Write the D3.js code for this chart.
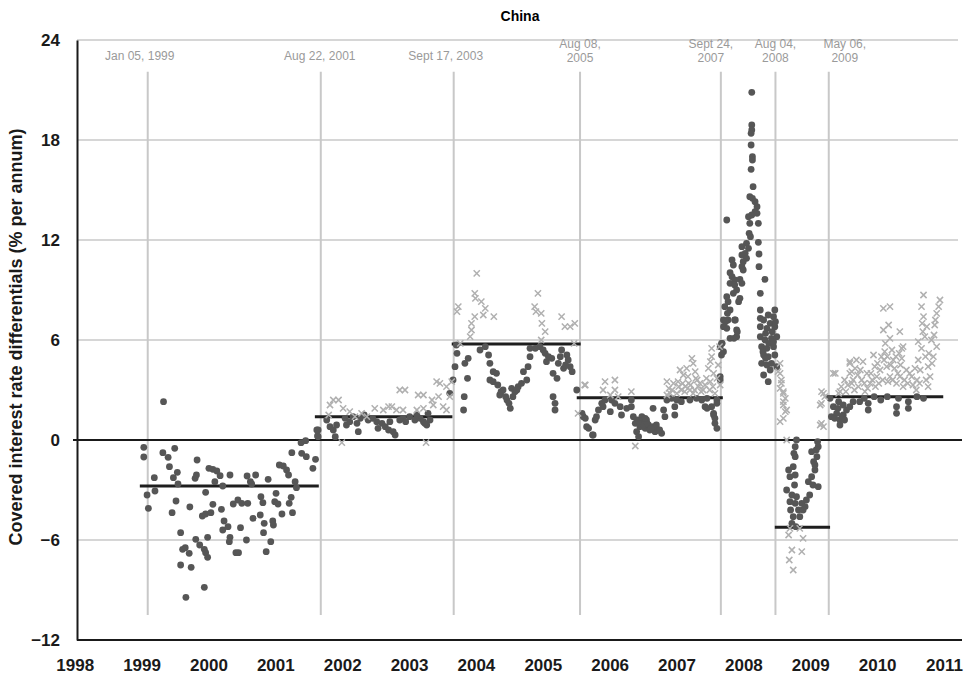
<!DOCTYPE html>
<html>
<head>
<meta charset="utf-8">
<script src="https://cdn.jsdelivr.net/npm/d3@7"></script>
<style>
  body { margin: 0; background: #fff; font-family: "Liberation Sans", Arial, sans-serif; }
  svg text { font-family: "Liberation Sans", Arial, sans-serif; }
</style>
</head>
<body>
<script>
//----------------- data (decimal year, % p.a.) ----------------

const yTicks = [-12, -6, 0, 6, 12, 18, 24];
const yearLabels = [1998, 1999, 2000, 2001, 2002, 2003, 2004, 2005, 2006, 2007, 2008, 2009, 2010, 2011];

// regime change dates (position on the axis) and their captions
const eventPos = [1999.01, 2001.64, 2003.66, 2005.58, 2007.72, 2008.55, 2009.36];
const eventText = [["Jan 05, 1999"], ["Aug 22, 2001"], ["Sept 17, 2003"], ["Aug 08,", "2005"], ["Sept 24,", "2007"], ["Aug 04,", "2008"], ["May 06,", "2009"]];

// period averages: start, end, level
const meanStart = [1998.89, 2001.55, 2003.63, 2005.53, 2008.54, 2009.30];
const meanEnd = [2001.61, 2003.64, 2005.59, 2007.75, 2009.38, 2011.10];
const meanLevel = [-2.76, 1.40, 5.76, 2.54, -5.24, 2.60];

// dark dots
const dots = [
  [1998.95,-0.44],[1998.95,-1.02],[1999.00,-3.30],[1999.02,-4.10],[1999.11,-2.26],[1999.12,-3.06],[1999.24,-0.76],[1999.25,2.30],
  [1999.32,-1.04],[1999.42,-0.50],[1999.34,-1.60],[1999.46,-1.94],[1999.40,-2.26],[1999.47,-2.64],[1999.44,-3.66],[1999.38,-4.36],
  [1999.51,-5.56],[1999.54,-6.56],[1999.58,-6.46],[1999.64,-6.80],[1999.51,-7.50],[1999.67,-7.64],[1999.59,-9.44],[1999.87,-8.84],
  [1999.65,-4.02],[1999.76,-1.20],[1999.73,-2.30],[1999.75,-2.10],[1999.89,-3.14],[1999.74,-5.96],[1999.80,-6.30],[1999.87,-6.56],
  [1999.89,-6.76],[1999.92,-7.04],[1999.92,-5.84],[1999.84,-4.56],[1999.89,-4.44],[1999.97,-4.36],[2000.00,-3.86],[1999.94,-1.70],
  [2000.00,-1.76],[2000.06,-1.86],[2000.11,-2.14],[2000.03,-2.50],[2000.15,-2.76],[2000.26,-2.10],[2000.13,-4.16],[2000.17,-4.86],
  [2000.15,-5.40],[2000.23,-5.20],[2000.26,-5.84],[2000.25,-6.10],[2000.35,-6.76],[2000.39,-6.76],[2000.31,-3.84],[2000.38,-3.60],
  [2000.44,-3.80],[2000.53,-3.80],[2000.42,-5.26],[2000.51,-6.00],[2000.52,-2.16],[2000.57,-2.50],[2000.65,-2.10],[2000.59,-2.64],
  [2000.61,-4.70],[2000.73,-3.40],[2000.76,-3.76],[2000.72,-4.50],[2000.78,-5.00],[2000.77,-5.56],[2000.81,-6.70],[2000.88,-6.10],
  [2000.84,-2.36],[2000.91,-4.86],[2000.92,-5.10],[2000.96,-3.20],[2000.94,-3.70],[2000.99,-3.84],[2001.05,-4.44],[2001.01,-1.50],
  [2001.07,-1.56],[2001.12,-1.80],[2001.15,-2.10],[2001.16,-3.80],[2001.19,-3.44],[2001.21,-4.36],[2001.25,-2.50],[2001.27,-2.86],
  [2001.20,-0.76],[2001.34,-0.16],[2001.41,-0.04],[2001.35,-0.80],[2001.42,-1.00],[2001.52,-1.70],[2001.56,-1.16],[2001.59,0.24],
  [2001.60,0.60],
  [2001.58,0.6],[2001.60,0.2],[2001.73,1.2],[2001.78,0.8],[2001.83,0.6],[2001.86,0.2],[2001.88,0.9],[2002.01,1.3],[2002.03,0.9],
  [2002.08,1.1],[2002.13,1.4],[2002.19,1.0],[2002.21,0.5],[2002.24,1.3],[2002.36,1.2],[2002.49,1.1],[2002.51,0.7],[2002.57,1.0],
  [2002.62,0.8],[2002.67,0.6],[2002.69,1.1],[2002.74,0.5],[2002.77,0.3],[2002.84,1.2],[2002.89,1.3],[2002.99,1.4],[2003.07,1.2],
  [2003.15,1.3],[2003.20,1.1],[2003.25,0.9],[2003.27,1.6],[2002.30,1.5],[2002.43,1.3],[2002.93,1.1],[2003.10,1.5],[2003.22,1.0],
  [2003.30,1.2],
  [2003.60,2.8],[2003.65,3.6],[2003.68,4.4],[2003.71,5.2],[2003.70,5.7],[2003.83,4.6],[2003.88,4.9],[2003.87,3.7],[2003.82,2.6],
  [2003.81,1.8],[2004.06,5.4],[2004.14,5.6],[2004.19,5.1],[2004.21,4.6],[2004.26,4.1],[2004.31,4.0],[2004.21,3.6],[2004.26,3.5],
  [2004.36,2.7],[2004.41,3.0],[2004.47,2.4],[2004.52,1.9],[2004.54,3.1],[2004.59,2.9],[2004.64,3.2],[2004.69,3.4],[2004.77,3.6],
  [2004.72,4.1],[2004.79,4.4],[2004.82,5.0],[2004.82,5.5],[2004.97,5.6],[2005.02,5.4],[2005.05,5.2],[2005.07,4.7],[2005.15,4.9],
  [2005.17,4.0],[2005.23,3.7],[2005.25,4.6],[2005.30,5.4],[2005.33,4.3],[2005.38,5.1],[2005.40,4.8],[2005.43,4.4],[2005.46,4.1],
  [2005.17,2.6],[2005.20,2.2],[2005.20,1.8],[2005.53,3.0],[2004.33,3.3],[2004.38,2.9],[2004.45,2.6],[2004.50,2.2],[2004.56,2.6],
  [2004.62,3.0],[2004.90,5.5],[2005.10,5.0],[2005.28,5.0],[2005.36,4.5],
  [2005.61,1.6],[2005.63,1.4],[2005.66,1.3],[2005.68,0.8],[2005.71,0.7],[2005.77,0.3],[2005.78,0.3],[2005.81,1.2],[2005.83,1.4],
  [2005.86,1.8],[2005.91,2.2],[2005.96,2.4],[2005.93,2.0],[2006.04,1.7],[2006.06,2.4],[2006.11,2.2],[2006.19,2.0],[2006.21,1.5],
  [2006.29,1.9],[2006.36,2.0],[2006.36,2.4],[2006.39,1.4],[2006.42,1.0],[2006.44,0.5],[2006.47,0.2],[2006.49,0.8],[2006.52,1.4],
  [2006.54,1.1],[2006.57,0.7],[2006.59,1.2],[2006.62,0.9],[2006.64,0.6],[2006.69,0.8],[2006.72,0.5],[2006.77,0.6],[2006.82,0.4],
  [2006.69,1.9],[2006.85,1.8],[2006.87,1.4],[2006.90,2.4],[2006.97,2.5],[2007.02,2.0],[2007.02,1.5],[2007.05,2.4],[2007.43,2.4],
  [2007.48,2.0],[2007.51,2.5],[2007.58,2.0],[2007.61,1.5],[2007.63,1.0],[2007.66,0.7],[2007.66,2.4],[2007.71,3.6],[2006.45,1.2],
  [2006.50,1.0],[2006.55,0.9],[2006.60,1.0],[2006.66,0.7],[2006.74,0.9],[2006.79,0.6],[2006.57,1.3],[2007.12,2.3],[2007.25,2.4],
  [2007.35,2.5],
  [2008.19,20.86],[2008.19,18.9],[2008.19,18.6],[2008.18,18.4],[2008.18,17.7],[2008.20,17.0],[2008.20,16.8],[2008.18,16.24],
  [2008.21,15.2],[2008.16,14.6],[2008.20,14.5],[2008.24,14.3],[2008.27,14.0],[2008.24,13.7],[2008.19,13.5],[2008.14,13.4],
  [2008.27,13.6],[2008.16,13.0],[2008.29,13.0],[2007.81,13.2],[2008.15,12.4],[2008.17,12.2],[2008.29,11.86],[2008.11,11.8],
  [2008.14,11.5],[2008.04,11.6],[2008.09,11.2],[2008.30,11.16],[2008.04,11.1],[2008.11,10.9],[2007.89,10.8],[2008.06,10.7],
  [2007.91,10.5],[2008.04,10.4],[2008.30,10.4],[2008.06,10.2],[2007.86,10.04],[2007.89,9.8],[2007.93,9.6],[2008.01,9.64],
  [2008.39,9.64],[2007.86,9.4],[2007.93,9.3],[2008.04,9.4],[2007.96,9.0],[2007.91,8.8],[2007.81,8.6],[2007.83,8.3],[2008.01,8.5],
  [2007.99,8.3],[2007.78,8.0],[2007.86,7.8],[2008.32,8.8],[2008.32,7.8],[2008.54,7.8],[2007.76,7.2],[2007.83,7.2],[2007.93,7.2],
  [2008.32,7.3],[2008.37,7.2],[2008.52,7.4],[2008.47,7.0],[2007.76,6.8],[2007.81,6.7],[2007.96,6.6],[2008.32,6.8],[2008.42,6.7],
  [2008.54,6.8],[2007.86,6.1],[2007.96,6.2],[2008.32,6.2],[2008.39,6.0],[2008.49,6.1],[2008.57,6.2],[2007.73,5.8],[2007.71,5.6],
  [2008.34,5.6],[2008.42,5.5],[2008.52,5.6],[2007.73,5.1],[2008.37,5.1],[2008.44,5.0],[2008.54,5.1],[2008.34,4.6],[2008.42,4.5],
  [2008.49,4.6],[2008.57,4.4],[2008.37,3.9],[2008.44,3.5],[2007.71,3.8],[2007.66,2.2],[2007.51,1.9],[2007.61,1.6],[2007.63,1.3],
  [2007.76,5.3],[2007.74,5.8],[2007.79,7.1],[2007.82,7.6],[2007.92,6.1],[2007.97,6.5],[2007.94,7.2],[2008.40,6.4],[2008.45,5.8],
  [2008.50,6.5],[2008.36,5.3],[2008.47,4.2],[2008.52,5.9],[2008.44,7.5],[2008.55,7.1],[2008.40,4.9],
  [2008.87,0.0],[2008.85,-0.4],[2008.85,-1.0],[2008.82,-1.6],[2008.75,-1.8],[2008.77,-2.2],[2008.85,-2.1],[2008.72,-3.0],
  [2008.80,-3.3],[2008.87,-3.4],[2008.77,-3.7],[2008.85,-3.8],[2008.95,-3.8],[2008.90,-4.2],[2008.97,-4.2],[2008.82,-4.6],
  [2008.92,-4.6],[2008.80,-5.0],[2009.07,-3.3],[2009.02,-3.6],[2009.05,-2.5],[2009.10,-2.2],[2009.15,-1.8],[2009.13,-1.3],
  [2009.18,-1.0],[2009.10,-0.7],[2009.20,-0.4],[2009.19,-0.1],[2009.15,-1.5],[2009.20,-2.8],[2008.84,-2.7],[2008.78,-4.2],
  [2008.86,-5.2],[2009.00,-4.0],[2009.12,-2.7],[2009.17,-0.6],[2008.83,-0.8],
  [2009.38,2.5],[2009.43,2.0],[2009.48,1.6],[2009.53,1.2],[2009.58,1.5],[2009.63,1.8],[2009.51,2.3],[2009.58,2.1],[2009.68,2.0],
  [2009.73,2.3],[2009.40,1.4],[2009.53,0.9],[2009.56,1.4],[2009.83,2.3],[2009.96,2.2],[2009.96,1.8],[2010.42,2.5],[2010.39,2.0],
  [2010.39,1.6],[2010.57,2.3],[2010.57,1.9],[2009.90,2.5],[2010.05,2.6],[2010.15,2.4],[2010.25,2.6],[2010.70,2.6],[2010.80,2.5],
  [2009.45,1.3],[2009.60,1.2],[2009.50,1.9]
];

// light crosses
const crosses = [
  [2001.78,2.1],[2001.83,2.4],[2001.91,2.4],[2001.98,1.9],[2001.76,1.5],[2001.96,-0.16],[2002.08,1.7],[2002.16,1.4],[2002.26,1.6],
  [2002.34,1.4],[2002.46,1.9],[2002.59,1.8],[2002.67,2.0],[2002.72,2.0],[2002.79,1.8],[2002.84,3.0],[2002.92,3.0],[2002.89,1.8],
  [2003.12,2.7],[2003.20,2.7],[2003.10,1.8],[2003.20,1.9],[2003.24,-0.16],[2003.33,2.4],[2003.35,2.1],[2003.40,3.5],[2003.45,3.4],
  [2003.43,2.6],[2003.50,2.0],[2003.55,1.8],[2003.55,3.2],[2003.63,3.5],[2003.60,2.6],
  [2003.73,8.0],[2003.71,7.7],[2003.76,5.8],[2003.91,6.2],[2003.93,6.6],[2003.93,7.0],[2003.98,7.4],[2004.01,10.0],[2003.98,8.8],
  [2003.99,8.5],[2004.08,8.3],[2004.14,7.9],[2004.11,7.5],[2004.27,7.4],[2004.94,8.8],[2004.89,8.0],[2004.91,7.7],[2004.99,7.6],
  [2005.00,7.0],[2005.05,6.5],[2004.99,6.0],[2005.30,7.4],[2005.35,6.8],[2005.43,6.8],[2005.50,7.0],[2005.49,5.8],[2005.55,1.6],
  [2005.65,3.3],
  [2005.66,3.3],[2005.96,3.5],[2005.93,3.0],[2006.04,2.7],[2006.11,3.6],[2006.11,3.0],[2006.16,2.6],[2006.36,2.9],[2006.42,-0.36],
  [2006.90,3.5],[2006.93,3.1],[2006.95,2.8],[2007.00,3.4],[2007.07,3.5],[2007.10,4.2],[2007.15,3.9],[2007.18,3.2],[2007.23,3.4],
  [2007.20,4.3],[2007.28,4.9],[2007.30,4.6],[2007.25,3.0],[2007.33,4.1],[2007.36,3.6],[2007.38,3.2],[2007.30,2.8],[2007.12,3.0],
  [2007.05,2.8],[2007.45,3.0],[2007.53,4.3],[2007.56,4.7],[2007.58,5.5],[2007.58,5.0],[2007.61,4.0],[2007.56,3.5],[2007.71,3.3],
  [2007.63,2.8],[2006.90,2.7],[2006.98,3.0],[2007.08,3.2],[2007.14,3.4],[2007.17,2.9],[2007.22,3.8],[2007.26,3.3],[2007.32,3.0],
  [2007.34,3.7],[2007.40,3.4],[2007.42,2.9],[2007.48,3.3],[2007.50,3.7],[2007.55,3.0],[2007.60,3.2],[2007.66,3.7],[2007.68,4.5],
  [2007.70,5.6],
  [2008.62,4.6],[2008.59,4.1],[2008.64,3.6],[2008.62,3.1],[2008.67,2.9],[2008.70,2.5],[2008.67,2.1],[2008.72,1.8],[2008.62,4.0],
  [2008.64,3.4],[2008.67,2.8],[2008.67,2.3],[2008.70,1.7],[2008.67,1.3],[2008.62,1.1],[2008.72,0.0],[2008.77,-5.3],[2008.92,-5.3],
  [2008.75,-5.7],[2008.97,-5.9],[2008.80,-6.6],[2008.95,-6.7],[2008.76,-7.2],[2008.82,-7.8],
  [2009.46,4.0],[2009.25,2.9],[2009.30,2.6],[2009.23,2.1],[2009.25,1.0],[2009.28,0.8],[2009.51,2.8],[2009.68,4.6],[2009.68,4.0],
  [2009.76,4.3],[2009.71,3.4],[2009.23,0.9],[2009.25,2.2],[2009.28,2.8],[2009.43,4.0],[2009.53,2.9],[2009.68,4.7],[2009.71,4.1],
  [2009.73,3.6],[2009.78,4.8],[2009.81,3.2],[2009.88,4.7],[2009.94,4.0],[2009.86,3.6],[2009.99,3.4],[2009.91,2.9],[2010.04,5.1],
  [2010.06,4.4],[2010.09,3.8],[2010.16,5.0],[2010.19,6.6],[2010.19,7.9],[2010.29,8.0],[2010.27,6.9],[2010.22,5.8],[2010.29,6.1],
  [2010.24,4.4],[2010.32,5.4],[2010.34,4.8],[2010.29,3.8],[2010.44,6.5],[2010.47,5.5],[2010.47,4.9],[2010.39,3.4],[2010.44,3.8],
  [2010.54,4.2],[2010.49,3.2],[2010.62,3.8],[2010.67,4.3],[2010.70,3.6],[2010.72,4.8],[2010.72,5.9],[2010.80,8.7],[2010.77,8.0],
  [2010.80,7.4],[2010.85,6.8],[2010.82,6.2],[2010.77,5.5],[2010.87,4.4],[2010.90,3.8],[2010.87,3.2],[2010.92,6.0],[2010.97,6.9],
  [2011.00,7.6],[2011.05,8.4],[2010.95,5.0],[2011.00,5.6],[2010.49,5.6],
  [2009.55,3.2],[2009.60,3.6],[2009.62,2.9],[2009.65,3.3],[2009.75,3.0],[2009.80,3.9],[2009.84,4.2],[2009.90,3.4],[2009.95,3.1],
  [2010.00,4.0],[2010.02,3.6],[2010.07,3.2],[2010.10,4.6],[2010.12,3.4],[2010.14,4.2],[2010.18,3.6],[2010.20,4.8],[2010.21,5.3],
  [2010.25,5.0],[2010.26,3.5],[2010.30,4.5],[2010.33,3.6],[2010.36,4.3],[2010.38,5.0],[2010.41,4.0],[2010.43,5.2],[2010.45,4.5],
  [2010.51,3.6],[2010.56,3.4],[2010.59,4.0],[2010.64,3.3],[2010.69,3.0],[2010.74,3.4],[2010.75,4.2],[2010.78,7.0],[2010.79,6.5],
  [2010.83,5.0],[2010.84,3.6],[2010.88,5.2],[2010.93,4.6],[2010.96,6.3],[2010.98,7.2],[2011.03,8.0]
];

//----------------- svg ----------------

const width = 977;
const height = 676;
const plotLeft = 77, plotRight = 962, plotTop = 40, plotBottom = 640;

const svg = d3.select("body").append("svg").attr("width", width).attr("height", height);

const xScale = d3.scaleLinear().domain([1997.935, 2011.385]).range([plotLeft, plotRight]);
const yScale = d3.scaleLinear().domain([-12, 24]).range([plotBottom, plotTop]);
const labelScale = d3.scalePoint().domain(yearLabels).range([74.7, 944]);

// title
svg.append("text")
  .text("China")
  .attr("x", 520)
  .attr("y", 21)
  .style("text-anchor", "middle")
  .style("font-weight", "bold")
  .style("font-size", "14px");

//----------------- grid ----------------

svg.append("g")
  .selectAll("line")
  .data(yTicks.filter((d) => d !== 0 && d !== -12))
  .enter()
  .append("line")
  .attr("x1", plotLeft)
  .attr("x2", plotRight - 4)
  .attr("y1", (d) => yScale(d))
  .attr("y2", (d) => yScale(d))
  .style("stroke", "#c8c8c8")
  .style("stroke-width", 1.6);

// regime lines + captions
const shift = [-8, -1, -8, 0, -10, 0, 16];
const events = svg.append("g");
eventPos.forEach((t, i) => {
  events.append("line")
    .attr("x1", xScale(t))
    .attr("x2", xScale(t))
    .attr("y1", yScale(22.1))
    .attr("y2", yScale(-10.5))
    .style("stroke", "#c8c8c8")
    .style("stroke-width", 2);
  const lines = eventText[i];
  lines.forEach((s, j) => {
    events.append("text")
      .text(s)
      .attr("x", xScale(t) + shift[i])
      .attr("y", lines.length === 1 ? 60 : 47.5 + j * 14)
      .style("text-anchor", "middle")
      .style("font-size", "12px")
      .style("fill", "#9a9a9a");
  });
});

// zero line
svg.append("line")
  .attr("x1", plotLeft - 4)
  .attr("x2", plotRight)
  .attr("y1", yScale(0))
  .attr("y2", yScale(0))
  .style("stroke", "#1a1a1a")
  .style("stroke-width", 2);

// period means
svg.append("g")
  .selectAll("line")
  .data(meanLevel)
  .enter()
  .append("line")
  .attr("x1", (d, i) => xScale(meanStart[i]))
  .attr("x2", (d, i) => xScale(meanEnd[i]))
  .attr("y1", (d) => yScale(d))
  .attr("y2", (d) => yScale(d))
  .style("stroke", "#1e1e1e")
  .style("stroke-width", 3);

//----------------- points ----------------

svg.append("g")
  .selectAll("circle")
  .data(dots)
  .enter()
  .append("circle")
  .attr("cx", (d) => xScale(d[0]))
  .attr("cy", (d) => yScale(d[1]))
  .attr("r", 3.4)
  .style("fill", "#565656");

svg.append("g")
  .selectAll("path")
  .data(crosses)
  .enter()
  .append("path")
  .attr("d", "M-3.1,-3.1L3.1,3.1M-3.1,3.1L3.1,-3.1")
  .attr("transform", (d) => "translate(" + xScale(d[0]) + "," + yScale(d[1]) + ")")
  .style("fill", "none")
  .style("stroke", "#b0b0b0")
  .style("stroke-width", 1.5);

//----------------- axes ----------------

const yAxis = d3.axisLeft(yScale).tickValues(yTicks).tickSize(0).tickPadding(17);
const yG = svg.append("g").attr("transform", "translate(" + plotLeft + ",0)").call(yAxis);
yG.select(".domain").style("stroke", "#1a1a1a").style("stroke-width", 2);
yG.selectAll(".tick text").style("font-size", "17px").style("font-weight", "bold").style("fill", "#1a1a1a");

svg.append("line")
  .attr("x1", plotLeft)
  .attr("x2", plotRight)
  .attr("y1", yScale(-12))
  .attr("y2", yScale(-12))
  .style("stroke", "#1a1a1a")
  .style("stroke-width", 2);

const xAxis = d3.axisBottom(labelScale).tickSize(0).tickPadding(19);
const xG = svg.append("g").attr("transform", "translate(0," + plotBottom + ")").call(xAxis);
xG.select(".domain").remove();
xG.selectAll(".tick text").style("font-size", "17px").style("font-weight", "bold").style("fill", "#1a1a1a");

svg.append("text")
  .text("Covered interest rate differentials (% per annum)")
  .attr("transform", "rotate(-90)")
  .attr("x", -337)
  .attr("y", 22)
  .style("text-anchor", "middle")
  .style("font-weight", "bold")
  .style("font-size", "18px")
  .style("fill", "#1a1a1a");
</script>
</body>
</html>
